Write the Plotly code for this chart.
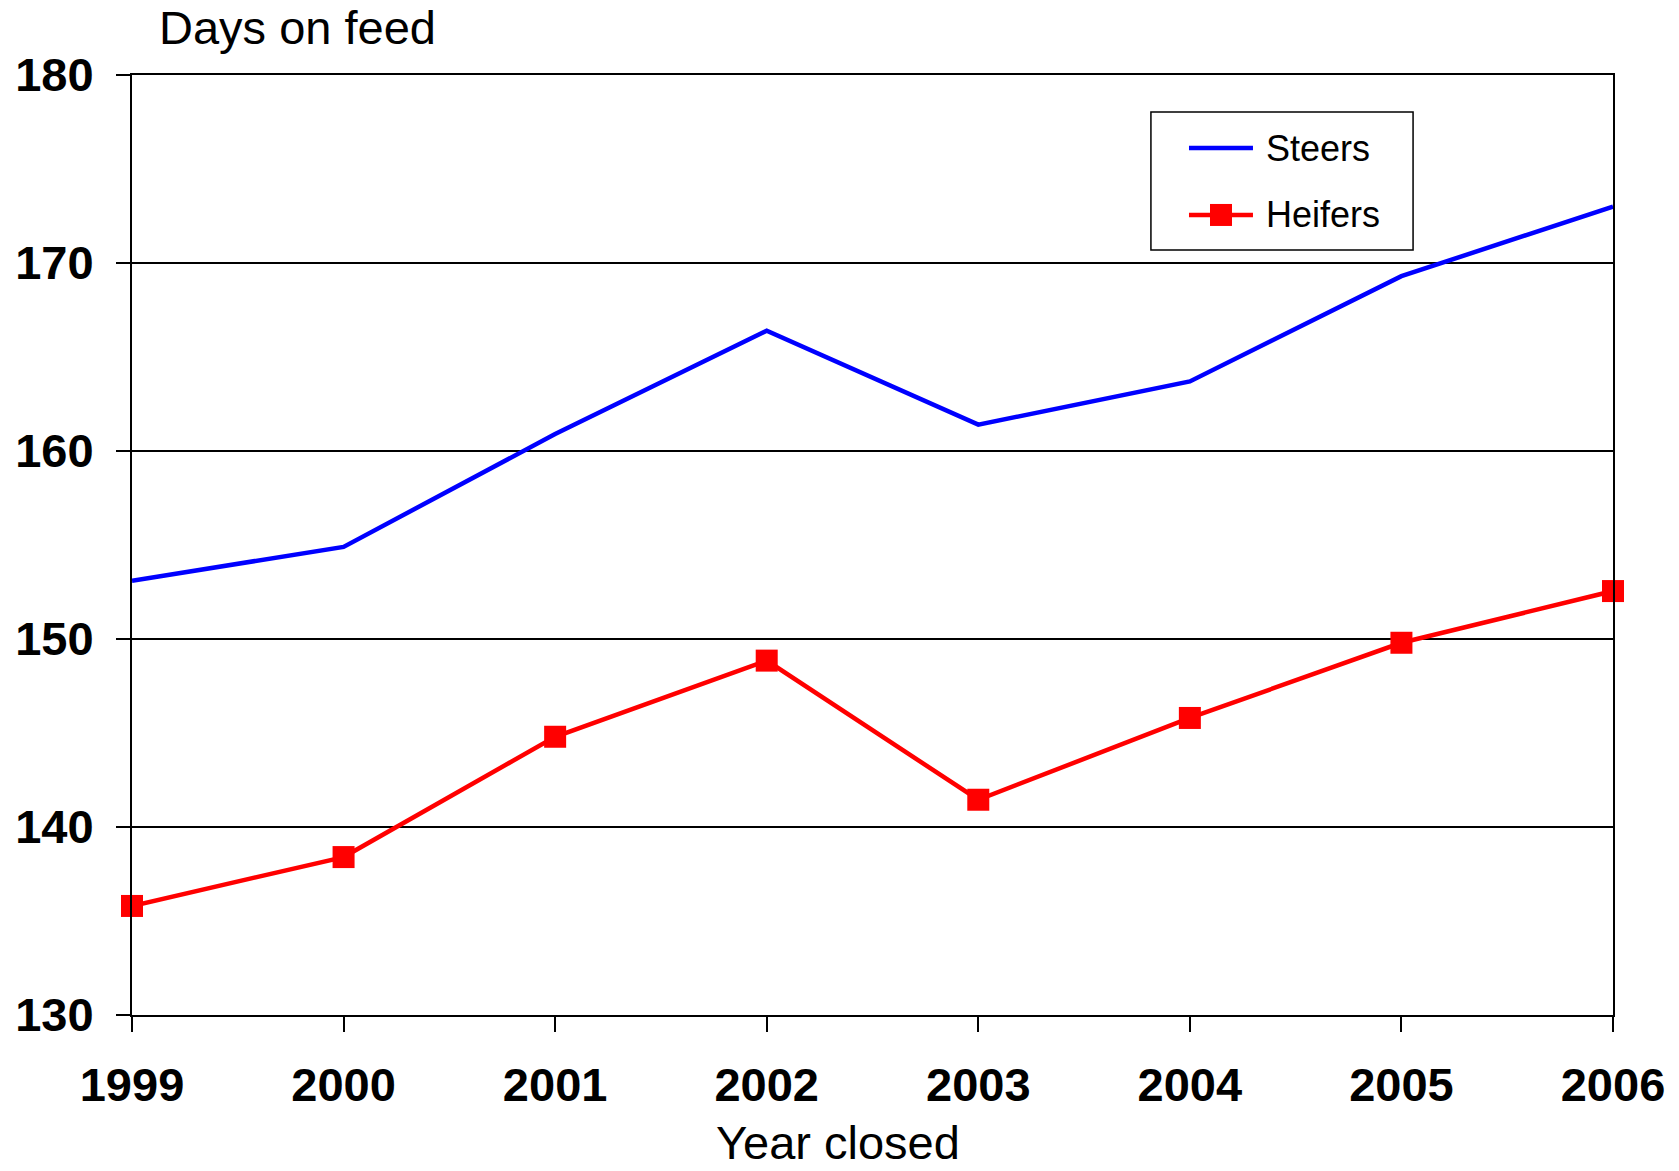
import plotly.graph_objects as go

# Average days on feed by year the pen closed
years = [1999, 2000, 2001, 2002, 2003, 2004, 2005, 2006]
steers = [153.1, 154.9, 160.9, 166.4, 161.4, 163.7, 169.3, 173.0]
heifers = [135.8, 138.4, 144.8, 148.85, 141.45, 145.8, 149.8, 152.55]
y_ticks = [130, 140, 150, 160, 170, 180]

FONT = "Liberation Sans, Arial, sans-serif"
BLUE = "#0000ff"
RED = "#ff0000"

fig = go.Figure()
fig.add_trace(go.Scatter(
    x=years, y=steers, name="Steers", mode="lines",
    line=dict(color=BLUE, width=4.5), cliponaxis=False,
))
fig.add_trace(go.Scatter(
    x=years, y=heifers, name="Heifers", mode="lines+markers",
    line=dict(color=RED, width=4.5),
    marker=dict(symbol="square", size=22, color=RED),
    cliponaxis=False,
))

# Boxed key in the upper right of the plot area (paper coordinates)
box = dict(x0=0.688, x1=0.865, y0=0.8138, y1=0.9606)
key_line = dict(x0=0.7137, x1=0.7569)
key_text_x = 0.7644
key_rows = [("Steers", BLUE, False, 0.9223), ("Heifers", RED, True, 0.8511)]

shapes = [dict(type="rect", xref="paper", yref="paper", **box,
               line=dict(color="black", width=1.5), fillcolor="white", layer="above")]
annotations = []
for label, color, has_marker, yk in key_rows:
    shapes.append(dict(type="line", xref="paper", yref="paper",
                       x0=key_line["x0"], x1=key_line["x1"], y0=yk, y1=yk,
                       line=dict(color=color, width=4.5), layer="above"))
    if has_marker:
        xm = (key_line["x0"] + key_line["x1"]) / 2
        shapes.append(dict(type="rect", xref="paper", yref="paper",
                           xsizemode="pixel", ysizemode="pixel",
                           xanchor=xm, yanchor=yk, x0=-11, x1=11, y0=-11, y1=11,
                           line=dict(width=0), fillcolor=color, layer="above"))
    annotations.append(dict(text=label, xref="paper", yref="paper",
                            x=key_text_x, y=yk, xanchor="left", yanchor="middle",
                            showarrow=False, font=dict(size=36, family=FONT)))

annotations += [
    dict(text="Days on feed", xref="paper", yref="paper",
         x=0.017, y=1.05, xanchor="left", yanchor="middle",
         showarrow=False, font=dict(size=47, family=FONT)),
    dict(text="Year closed", xref="paper", yref="paper",
         x=0.477, y=-0.1356, xanchor="center", yanchor="middle",
         showarrow=False, font=dict(size=47, family=FONT)),
]

fig.update_layout(
    width=1679, height=1171,
    margin=dict(l=132, r=66, t=75, b=156, autoexpand=False),
    paper_bgcolor="white", plot_bgcolor="white",
    font=dict(family=FONT, color="black"),
    showlegend=False,
    shapes=shapes,
    annotations=annotations,
)

fig.update_xaxes(
    range=[1999, 2006], tickvals=years, ticktext=[str(y) for y in years],
    showgrid=False, zeroline=False,
    showline=True, linecolor="black", linewidth=2, mirror=True,
    ticks="outside", ticklen=15, tickwidth=1.5, tickcolor="black",
    tickfont=dict(size=47, family=FONT, weight="bold"),
    ticklabelstandoff=13,
)
fig.update_yaxes(
    range=[130, 180], tickvals=y_ticks,
    showgrid=True, gridcolor="black", gridwidth=1.5, zeroline=False,
    showline=True, linecolor="black", linewidth=2, mirror=True,
    ticks="outside", ticklen=14, tickwidth=1.5, tickcolor="black",
    tickfont=dict(size=47, family=FONT, weight="bold"),
    ticklabelstandoff=13,
)

fig.write_html("out.html")
